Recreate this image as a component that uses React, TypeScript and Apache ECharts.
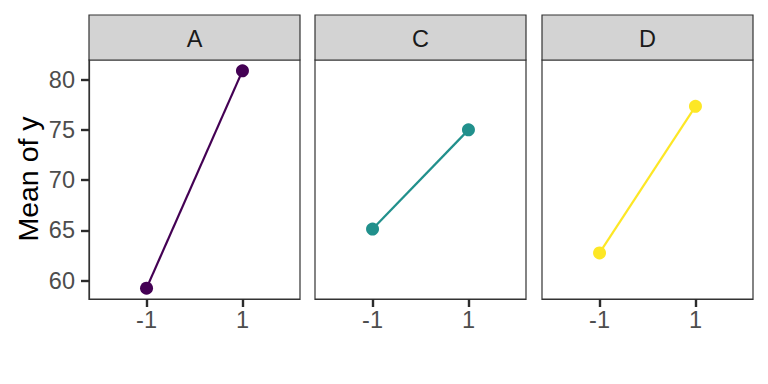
import React, { useEffect, useRef } from "react";
import * as echarts from "echarts";

const panels = ["A", "C", "D"];
const xLevels = [-1, 1];
const xLabels = ["-1", "1"];
const meansA = [59.24, 80.89];
const meansC = [65.13, 75.01];
const meansD = [62.75, 77.36];
const yTicks = [60, 65, 70, 75, 80];
const colors = ["#440154", "#21908C", "#FDE725"];
const yTitle = "Mean of y";

export default function App() {
  const ref = useRef<HTMLDivElement>(null);
  useEffect(() => {
    if (!ref.current) return;
    const chart = echarts.init(ref.current, undefined, { renderer: "svg" });
    const series = [meansA, meansC, meansD];
    const all = series.flat();
    const lo = Math.min(...all);
    const hi = Math.max(...all);
    const pad = (hi - lo) * 0.05;
    const yMin = lo - pad;
    const yMax = hi + pad;
    const xPad = 0.6 * (xLevels[1] - xLevels[0]);
    const xMin = xLevels[0] - xPad;
    const xMax = xLevels[xLevels.length - 1] + xPad;

    const lefts = [89, 315, 542];
    const pw = 211;
    const top = 60;
    const ph = 239;
    const stripTop = 15;
    const stripH = 45;
    const font = "Liberation Sans, Arial, sans-serif";
    const tickFont = 23.5;

    const grid = lefts.map((l) => ({
      left: l,
      top,
      width: pw,
      height: ph,
      show: true,
      borderColor: "#333333",
      borderWidth: 1.2,
      backgroundColor: "transparent",
    }));

    const xAxis = lefts.map((_, i) => ({
      type: "value",
      gridIndex: i,
      position: "bottom",
      min: xMin,
      max: xMax,
      splitLine: { show: false },
      axisLine: { show: true, onZero: false, lineStyle: { color: "#333333", width: 1.2 } },
      axisTick: {
        show: true,
        customValues: xLevels,
        length: 8,
        lineStyle: { color: "#2B2B2B", width: 2.4 },
      },
      axisLabel: {
        show: true,
        customValues: xLevels,
        formatter: (v: number) => xLabels[xLevels.indexOf(v)] ?? "",
        color: "#4D4D4D",
        fontSize: tickFont,
        fontFamily: font,
        margin: 9,
      },
    }));

    const yAxis = lefts.map((_, i) => ({
      type: "value",
      gridIndex: i,
      position: "left",
      min: yMin,
      max: yMax,
      splitLine: { show: false },
      axisLine: { show: i === 0, onZero: false, lineStyle: { color: "#333333", width: 1.2 } },
      axisTick: {
        show: i === 0,
        customValues: yTicks,
        length: 8,
        lineStyle: { color: "#2B2B2B", width: 2.4 },
      },
      axisLabel: {
        show: i === 0,
        customValues: yTicks,
        color: "#4D4D4D",
        fontSize: tickFont,
        fontFamily: font,
        margin: 14,
      },
    }));

    const seriesOpt = series.map((vals, i) => ({
      type: "line",
      xAxisIndex: i,
      yAxisIndex: i,
      data: xLevels.map((x, j) => [x, vals[j]]),
      symbol: "circle",
      symbolSize: 13,
      lineStyle: { color: colors[i], width: 2.2 },
      itemStyle: { color: colors[i] },
    }));

    const graphic: any[] = [];
    lefts.forEach((l, i) => {
      graphic.push({
        type: "rect",
        shape: { x: l, y: stripTop, width: pw, height: stripH },
        style: { fill: "#D3D3D3", stroke: "#333333", lineWidth: 1.2 },
      });
      graphic.push({
        type: "text",
        x: l + pw / 2,
        y: stripTop + stripH / 2 + 1,
        style: {
          text: panels[i],
          fill: "#1A1A1A",
          fontSize: tickFont,
          fontFamily: font,
          align: "center",
          verticalAlign: "middle",
        },
      });
    });
    graphic.push({
      type: "text",
      x: 28,
      y: 179,
      rotation: Math.PI / 2,
      style: {
        text: yTitle,
        fill: "#000000",
        fontSize: 28.5,
        fontFamily: font,
        align: "center",
        verticalAlign: "middle",
      },
    });

    chart.setOption({
      animation: false,
      backgroundColor: "#ffffff",
      grid,
      xAxis,
      yAxis,
      series: seriesOpt,
      graphic,
    });
    return () => chart.dispose();
  }, []);
  return (
    <div
      ref={ref}
      style={{ position: "fixed", left: 0, top: 0, width: 768, height: 384 }}
    />
  );
}
